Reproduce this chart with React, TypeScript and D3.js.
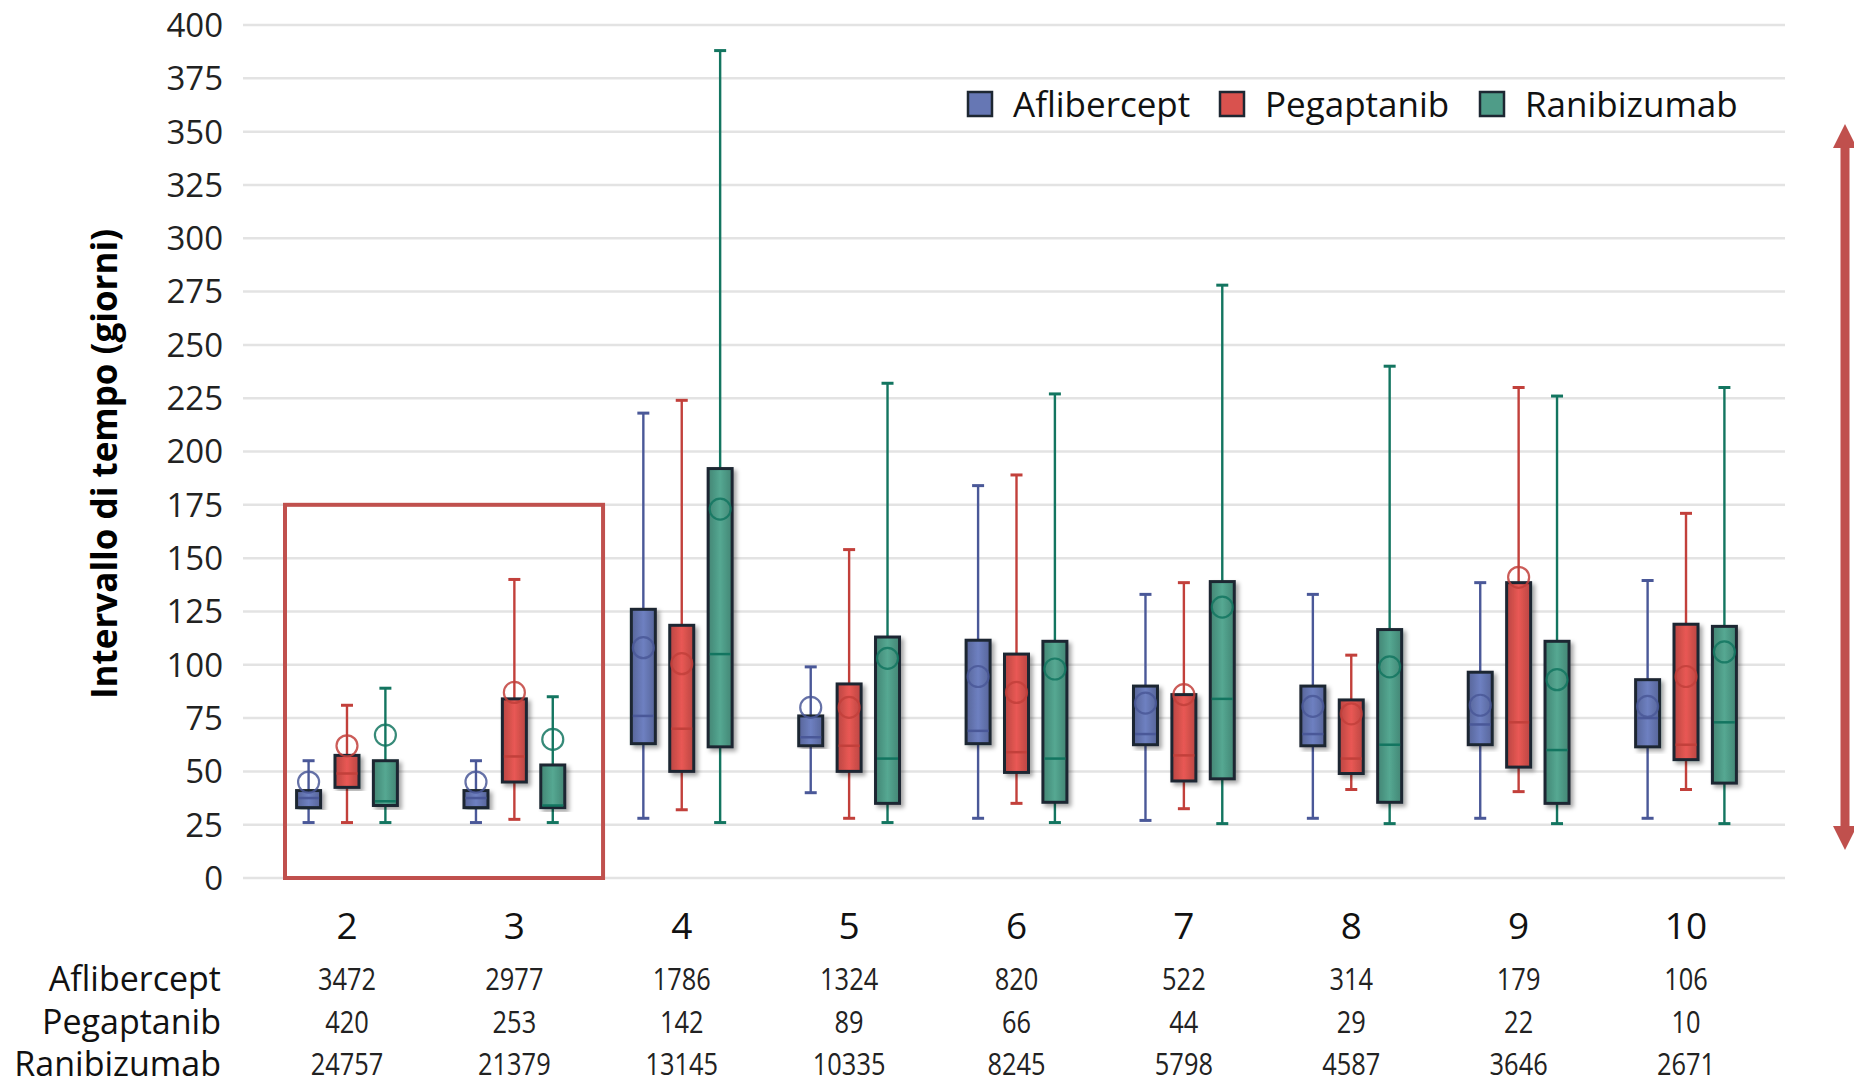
import React from "react";
import * as d3 from "d3";

// numero di iniezioni (gruppi sull'asse x)
const groups = ["2", "3", "4", "5", "6", "7", "8", "9", "10"];
const seriesNames = ["Aflibercept", "Pegaptanib", "Ranibizumab"];
const yTicks = [0, 25, 50, 75, 100, 125, 150, 175, 200, 225, 250, 275, 300, 325, 350, 375, 400];

// Aflibercept
const aflMin = [26, 26, 28, 40, 28, 27, 28, 28, 28];
const aflQ1 = [33, 33, 63, 62, 63, 62.5, 62, 62.5, 61.5];
const aflMed = [37.5, 37.5, 76, 66, 69, 67.5, 67.5, 72, 75];
const aflQ3 = [41, 41, 126, 76, 111.5, 90, 90, 96.5, 93];
const aflMax = [55, 55, 218, 99, 184, 133, 133, 138.5, 139.5];
const aflMean = [45, 45, 108, 80, 94.5, 82, 80.5, 81, 80.5];

// Pegaptanib
const pegMin = [26, 27.5, 32, 28, 35, 32.5, 41.5, 40.5, 41.5];
const pegQ1 = [42.5, 45, 50, 50, 49.5, 45.5, 49, 52, 55.5];
const pegMed = [49, 57, 70, 62, 59, 57.5, 56, 73, 62.5];
const pegQ3 = [57.5, 84, 118.5, 91, 105, 86, 83.5, 138.5, 119];
const pegMax = [81, 140, 224, 154, 189, 138.5, 104.5, 230, 171];
const pegMean = [62, 87, 100.5, 80, 87, 86, 77, 141, 94.5];

// Ranibizumab
const ranMin = [26, 26, 26, 26, 26, 25.5, 25.5, 25.5, 25.5];
const ranQ1 = [34, 33, 61.5, 35, 35.5, 46.5, 35.5, 35, 44.5];
const ranMed = [36, 34, 105, 56, 56, 84, 62.5, 60, 73];
const ranQ3 = [55, 53, 192, 113, 111, 139, 116.5, 111, 118];
const ranMax = [89, 85, 388, 232, 227, 278, 240, 226, 230];
const ranMean = [67, 65, 173, 103, 98, 127, 99, 93, 106];

// numerosità per gruppo
const aflCount = [3472, 2977, 1786, 1324, 820, 522, 314, 179, 106];
const pegCount = [420, 253, 142, 89, 66, 44, 29, 22, 10];
const ranCount = [24757, 21379, 13145, 10335, 8245, 5798, 4587, 3646, 2671];

const fills = ["#6677b4", "#d9524e", "#4f9c88"];
const strokes = ["#4a5898", "#c2403b", "#137560"];
const edge = "#1d2732";
const font = "'Open Sans', 'Noto Sans', sans-serif";

const W = 1854;
const H = 1087;

export default function App() {
  const x = d3.scaleBand().domain(groups).range([263.3, 1769.7]);
  const off = d3.scalePoint().domain(seriesNames).range([-38.4, 38.4]);
  const y = d3.scaleLinear().domain([0, 400]).range([878, 25]);
  const bw = x.bandwidth();
  const boxW = 24;
  const capW = 12;

  const series = [
    { name: seriesNames[0], min: aflMin, q1: aflQ1, med: aflMed, q3: aflQ3, max: aflMax, mean: aflMean, n: aflCount },
    { name: seriesNames[1], min: pegMin, q1: pegQ1, med: pegMed, q3: pegQ3, max: pegMax, mean: pegMean, n: pegCount },
    { name: seriesNames[2], min: ranMin, q1: ranQ1, med: ranMed, q3: ranQ3, max: ranMax, mean: ranMean, n: ranCount },
  ];

  const legendX = [968, 1220, 1480];
  const rowY = [979, 1022, 1064];

  return (
    <svg width={W} height={H} style={{ position: "absolute", left: 0, top: 0, background: "#fff" }}>
      <defs>
        <filter id="shadow" x="-50%" y="-10%" width="200%" height="120%">
          <feDropShadow dx="3" dy="3" stdDeviation="2" floodColor="#000" floodOpacity="0.35" />
        </filter>
        {fills.map((c, i) => {
          const dark = d3.color(c).darker(0.45).formatHex();
          const light = d3.color(c).brighter(0.2).formatHex();
          return (
            <linearGradient key={i} id={"g" + i} x1="0" x2="1" y1="0" y2="0">
              <stop offset="0" stopColor={dark} />
              <stop offset="0.5" stopColor={light} />
              <stop offset="1" stopColor={dark} />
            </linearGradient>
          );
        })}
      </defs>

      {/* griglia */}
      {yTicks.map(t => (
        <line key={t} x1={243} x2={1785} y1={y(t)} y2={y(t)} stroke="#e3e3e3" strokeWidth={2.5} />
      ))}
      {yTicks.map(t => (
        <text key={"l" + t} x={223} y={y(t)} dy="0.36em" textAnchor="end" fontFamily={font} fontSize={33} fill="#222">
          {t}
        </text>
      ))}

      <text
        transform={`translate(117,464) rotate(-90)`}
        textAnchor="middle"
        fontFamily={font}
        fontSize={35}
        fontWeight="bold"
        fill="#000"
      >
        Intervallo di tempo (giorni)
      </text>

      {/* box plot */}
      {series.map((s, si) =>
        groups.map((g, gi) => {
          const cx = x(g) + bw / 2 + off(s.name);
          const yMax = y(s.max[gi]);
          const yMin = y(s.min[gi]);
          const yQ1 = y(s.q1[gi]);
          const yQ3 = y(s.q3[gi]);
          return (
            <g key={s.name + g}>
              <line x1={cx} x2={cx} y1={yMax} y2={yMin} stroke={strokes[si]} strokeWidth={2.4} />
              <line x1={cx - capW / 2} x2={cx + capW / 2} y1={yMax} y2={yMax} stroke={strokes[si]} strokeWidth={3} />
              <line x1={cx - capW / 2} x2={cx + capW / 2} y1={yMin} y2={yMin} stroke={strokes[si]} strokeWidth={3} />
              <rect
                x={cx - boxW / 2}
                y={yQ3}
                width={boxW}
                height={yQ1 - yQ3}
                fill={`url(#g${si})`}
                stroke={edge}
                strokeWidth={3}
                filter="url(#shadow)"
              />
              <line
                x1={cx - boxW / 2 + 1.5}
                x2={cx + boxW / 2 - 1.5}
                y1={y(s.med[gi])}
                y2={y(s.med[gi])}
                stroke={strokes[si]}
                strokeWidth={2.5}
              />
              <circle
                cx={cx}
                cy={y(s.mean[gi])}
                r={10.5}
                fill="none"
                stroke={strokes[si]}
                strokeWidth={2.2}
                strokeOpacity={0.85}
              />
            </g>
          );
        })
      )}

      {/* legenda */}
      {series.map((s, si) => (
        <g key={"leg" + si}>
          <rect x={legendX[si]} y={92} width={24} height={24} fill={fills[si]} stroke={edge} strokeWidth={2.5} />
          <text x={legendX[si] + 45} y={104} dy="0.36em" fontFamily={font} fontSize={35} fill="#111">
            {s.name}
          </text>
        </g>
      ))}

      {/* etichette asse x */}
      {groups.map(g => (
        <text key={"x" + g} x={x(g) + bw / 2} y={926} dy="0.36em" textAnchor="middle" fontFamily={font} fontSize={37} fill="#111">
          {g}
        </text>
      ))}

      {/* tabella numerosità */}
      {series.map((s, si) => (
        <g key={"row" + si}>
          <text x={221} y={rowY[si]} dy="0.36em" textAnchor="end" fontFamily={font} fontSize={34} fill="#111">
            {s.name}
          </text>
          {groups.map((g, gi) => (
            <text
              key={g}
              transform={`translate(${x(g) + bw / 2},${rowY[si]}) scale(0.82,1)`}
              dy="0.36em"
              textAnchor="middle"
              fontFamily={font}
              fontSize={31}
              fill="#222"
            >
              {s.n[gi]}
            </text>
          ))}
        </g>
      ))}

      {/* evidenziazione gruppi 2-3 */}
      <rect
        x={x("2") + 21.7}
        y={y(175)}
        width={x("3") + bw + 5 - (x("2") + 21.7)}
        height={y(0) - y(175)}
        fill="none"
        stroke="#c0504d"
        strokeWidth={4}
      />

      {/* freccia a destra */}
      <g fill="#c0504d">
        <rect x={1840.5} y={140} width={9} height={694} />
        <path d="M1845,124 L1857,148 L1833,148 Z" />
        <path d="M1845,850 L1857,826 L1833,826 Z" />
      </g>
    </svg>
  );
}
